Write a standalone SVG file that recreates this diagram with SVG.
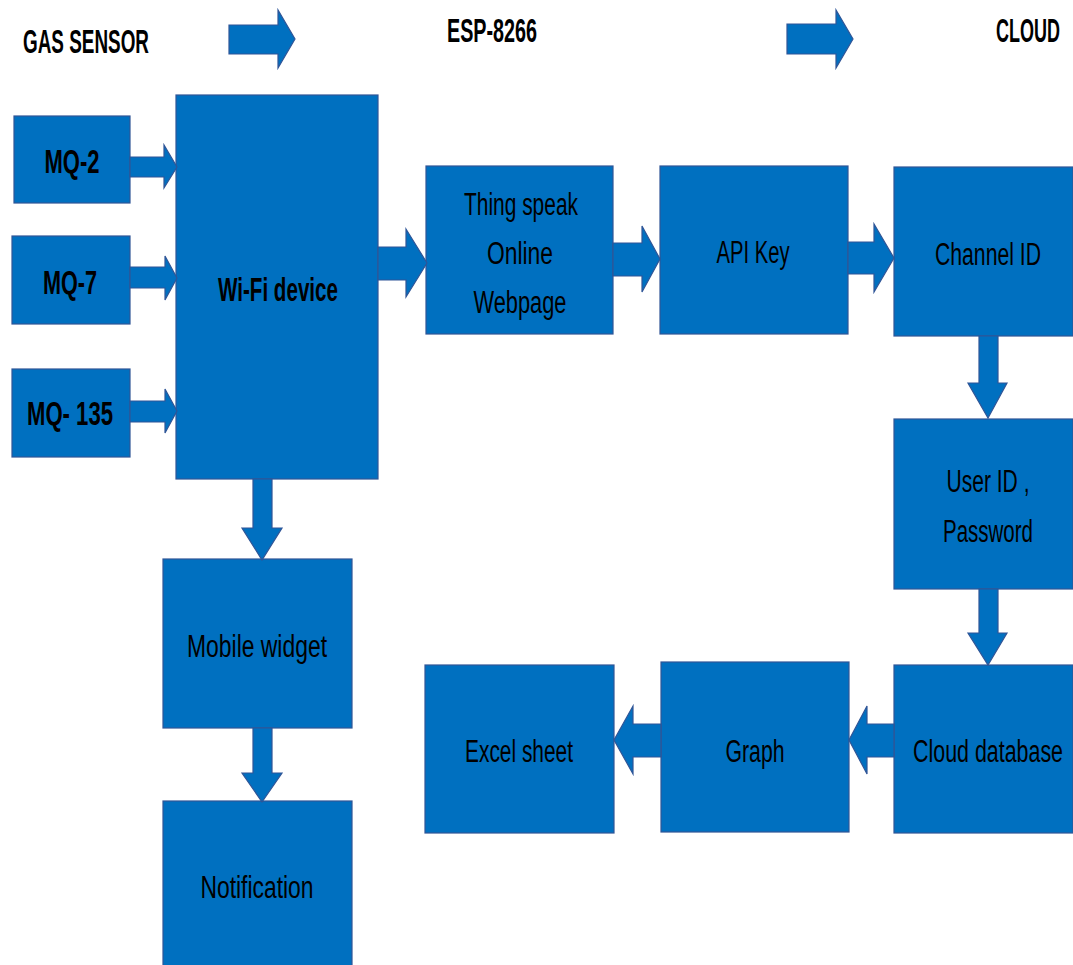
<svg xmlns="http://www.w3.org/2000/svg" width="1073" height="965" viewBox="0 0 1073 965">
<style>
.box{fill:#0070C0;stroke:#2F5597;stroke-width:1.2}
.arr{fill:#0070C0;stroke:#2F5597;stroke-width:1.2;stroke-linejoin:miter}
.t{font-family:"Liberation Sans",Arial,sans-serif;font-size:31px;fill:#000;text-anchor:middle}
.b{font-family:"Liberation Sans",Arial,sans-serif;font-size:34px;font-weight:bold;fill:#000;text-anchor:middle}
</style>
<rect width="1073" height="965" fill="#fff"/>
<g id="headers">
<text class="b" x="86" y="53" textLength="126" lengthAdjust="spacingAndGlyphs">GAS SENSOR</text>
<text class="b" x="492" y="42" textLength="90" lengthAdjust="spacingAndGlyphs">ESP-8266</text>
<text class="b" x="1060" y="42" style="text-anchor:end" textLength="64" lengthAdjust="spacingAndGlyphs">CLOUD</text>
</g>
<g id="nodes">
<g id="mq2"><rect class="box" x="14" y="116" width="116" height="87"/><text class="b" x="72" y="173" textLength="55" lengthAdjust="spacingAndGlyphs">MQ-2</text></g>
<g id="mq7"><rect class="box" x="12" y="236" width="118" height="88"/><text class="b" x="70" y="294" textLength="54" lengthAdjust="spacingAndGlyphs">MQ-7</text></g>
<g id="mq135"><rect class="box" x="12" y="369" width="118" height="88"/><text class="b" x="70" y="425" textLength="86" lengthAdjust="spacingAndGlyphs">MQ- 135</text></g>
<g id="wifi"><rect class="box" x="176" y="95" width="202" height="384"/><text class="b" x="278" y="301" textLength="120" lengthAdjust="spacingAndGlyphs">Wi-Fi device</text></g>
<g id="thingspeak"><rect class="box" x="426" y="166" width="187" height="168"/>
<text class="t" x="521" y="215" textLength="114" lengthAdjust="spacingAndGlyphs">Thing speak</text>
<text class="t" x="520" y="264" textLength="66" lengthAdjust="spacingAndGlyphs">Online</text>
<text class="t" x="520" y="313" textLength="93" lengthAdjust="spacingAndGlyphs">Webpage</text></g>
<g id="apikey"><rect class="box" x="660" y="166" width="188" height="168"/><text class="t" x="753" y="263" textLength="73" lengthAdjust="spacingAndGlyphs">API Key</text></g>
<g id="channel"><rect class="box" x="894" y="167" width="179" height="169"/><text class="t" x="988" y="265" textLength="106" lengthAdjust="spacingAndGlyphs">Channel ID</text></g>
<g id="userid"><rect class="box" x="894" y="419" width="179" height="170"/>
<text class="t" x="988" y="492" textLength="83" lengthAdjust="spacingAndGlyphs">User ID ,</text>
<text class="t" x="988" y="542" textLength="90" lengthAdjust="spacingAndGlyphs">Password</text></g>
<g id="clouddb"><rect class="box" x="894" y="665" width="179" height="168"/><text class="t" x="988" y="762" textLength="150" lengthAdjust="spacingAndGlyphs">Cloud database</text></g>
<g id="graph"><rect class="box" x="661" y="662" width="188" height="170"/><text class="t" x="755" y="762" textLength="59" lengthAdjust="spacingAndGlyphs">Graph</text></g>
<g id="excel"><rect class="box" x="425" y="665" width="189" height="168"/><text class="t" x="519" y="762" textLength="108" lengthAdjust="spacingAndGlyphs">Excel sheet</text></g>
<g id="mobile"><rect class="box" x="163" y="559" width="189" height="169"/><text class="t" x="257" y="657" textLength="140" lengthAdjust="spacingAndGlyphs">Mobile widget</text></g>
<g id="notification"><rect class="box" x="163" y="801" width="189" height="170"/><text class="t" x="257" y="898" textLength="113" lengthAdjust="spacingAndGlyphs">Notification</text></g>
</g>
<g id="connectors">
<polygon class="arr" points="229,25 278,25 278,10 295,39 278,68 278,54 229,54"/>
<polygon class="arr" points="787,24 836,24 836,10 853,39 836,68 836,54 787,54"/>
<polygon class="arr" points="130,157 164,157 164,145 177,167 164,188 164,177 130,177"/>
<polygon class="arr" points="130,267 165,267 165,256 177,278 165,300 165,288 130,288"/>
<polygon class="arr" points="130,401 165,401 165,389 177,411 165,433 165,422 130,422"/>
<polygon class="arr" points="378,247 406,247 406,229 427,263 406,297 406,280 378,280"/>
<polygon class="arr" points="613,243 642,243 642,226 660,259 642,292 642,276 613,276"/>
<polygon class="arr" points="848,242 874,242 874,224 894,258 874,292 874,274 848,274"/>
<polygon class="arr" points="979,336 998,336 998,383 1007,383 988,418 968,383 979,383"/>
<polygon class="arr" points="979,589 998,589 998,633 1007,633 988,665 968,633 979,633"/>
<polygon class="arr" points="894,724 867,724 867,706 849,740 867,774 867,757 894,757"/>
<polygon class="arr" points="661,724 633,724 633,706 614,740 633,774 633,757 661,757"/>
<polygon class="arr" points="253,479 272,479 272,528 282,528 262,560 242,528 253,528"/>
<polygon class="arr" points="253,728 272,728 272,773 282,773 262,802 242,773 253,773"/>
</g>
</svg>
